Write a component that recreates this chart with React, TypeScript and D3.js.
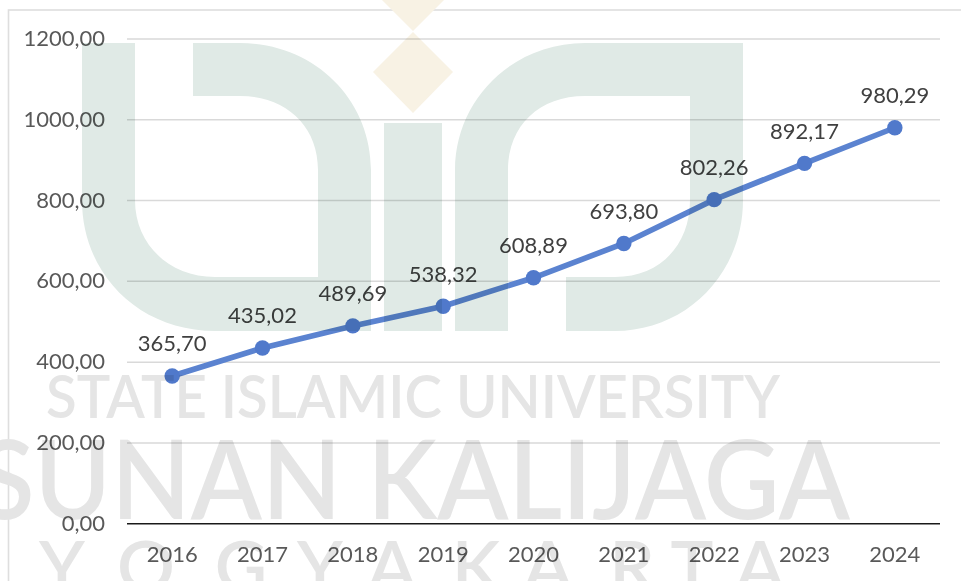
import React from "react";
import * as d3 from "d3";

const years = ["2016", "2017", "2018", "2019", "2020", "2021", "2022", "2023", "2024"];
const values = [365.7, 435.02, 489.69, 538.32, 608.89, 693.8, 802.26, 892.17, 980.29];
const valueLabels = ["365,70", "435,02", "489,69", "538,32", "608,89", "693,80", "802,26", "892,17", "980,29"];
const yTicks = [0, 200, 400, 600, 800, 1000, 1200];
const yogyaLetters = ["Y", "O", "G", "Y", "A", "K", "A", "R", "T", "A"];
const yogyaCentres = [62, 146, 241, 320, 392, 476, 548, 632, 692, 760];

const W = 961, H = 581;
const FONT = "Lato, 'Open Sans', sans-serif";

const x = d3.scaleBand<string>().domain(years).range([127, 940]);
const y = d3.scaleLinear().domain([0, 1200]).range([523.7, 39]);
const cx = (d: string) => (x(d) as number) + x.bandwidth() / 2;
const linePath = d3.line<number>().x((_, i) => cx(years[i])).y((v) => y(v))(values) as string;

const green = "#e0eae6";
const beige = "#f8f2e4";
const grey = "#e5e5e5";

export default function App() {
  return (
    <svg width={W} height={H} viewBox={`0 0 ${W} ${H}`} style={{ position: "fixed", left: 0, top: 0, background: "#fff" }}>
      <rect x={8.5} y={10} width={W + 20} height={H + 20} fill="none" stroke="#dedede" strokeWidth={1.6} />
      <g>
        <path fill={green} d="M82,43 L135,43 L135,200 C135,245 170,277 215,277 L318,277 L318,170 C318,125 285,96 240,96 L193,96 L193,43 L240,43 C315,43 371,100 371,170 L371,331 L215,331 C140,331 82,275 82,200 Z" />
        <rect x={384} y={123} width={58} height={208} fill={green} />
        <path fill={green} d="M455,331 L455,170 C455,100 512,43 585,43 L743,43 L743,200 C743,275 685,331 615,331 L566,331 L566,277 L615,277 C660,277 690,245 690,200 L690,96 L585,96 C540,96 508,125 508,170 L508,331 Z" />
        <path fill={beige} d="M413,32 L453,72 L413,113 L373,72 Z" />
        <path fill={beige} d="M413,31 L453,-9 L413,-49 L373,-9 Z" />
        <text x={46} y={418} textLength={734} lengthAdjust="spacingAndGlyphs" fontFamily="Lato, sans-serif" fontWeight={600} fontSize={60} fill={grey}>STATE ISLAMIC UNIVERSITY</text>
        <text x={-22} y={519} textLength={872} lengthAdjust="spacingAndGlyphs" fontFamily="Lato, sans-serif" fontWeight={600} fontSize={110} fill={grey}>SUNAN KALIJAGA</text>
        {yogyaLetters.map((l, i) => (
          <text key={i} x={yogyaCentres[i]} y={592} textAnchor="middle" fontFamily="Lato, sans-serif" fontWeight={600} fontSize={72} fill={grey}>{l}</text>
        ))}
      </g>
      <g style={{ mixBlendMode: "multiply" }}>
        {yTicks.filter((t) => t !== 0).map((t) => (
          <line key={t} x1={127} x2={940} y1={y(t)} y2={y(t)} stroke="#d9d9d9" strokeWidth={1.5} />
        ))}
        <line x1={127} x2={940} y1={y(0)} y2={y(0)} stroke="#1a1a1a" strokeWidth={1.6} />
        <path d={linePath} fill="none" stroke="#5b83d0" strokeWidth={5.6} strokeLinecap="round" />
        {values.map((v, i) => (
          <circle key={i} cx={cx(years[i])} cy={y(v)} r={7.7} fill="#5079cb" />
        ))}
        {yTicks.map((t) => (
          <text key={t} x={105} y={y(t) + 7} textAnchor="end" fontFamily={FONT} fontSize={22} fill="#595959">
            {d3.format(".2f")(t).replace(".", ",")}
          </text>
        ))}
        {years.map((d) => (
          <text key={d} x={cx(d)} y={562} textAnchor="middle" fontFamily={FONT} fontSize={22} fill="#595959">{d}</text>
        ))}
        {values.map((v, i) => (
          <text key={i} x={cx(years[i])} y={y(v) - 24.5} textAnchor="middle" fontFamily={FONT} fontSize={22} fill="#404040">{valueLabels[i]}</text>
        ))}
      </g>
    </svg>
  );
}
